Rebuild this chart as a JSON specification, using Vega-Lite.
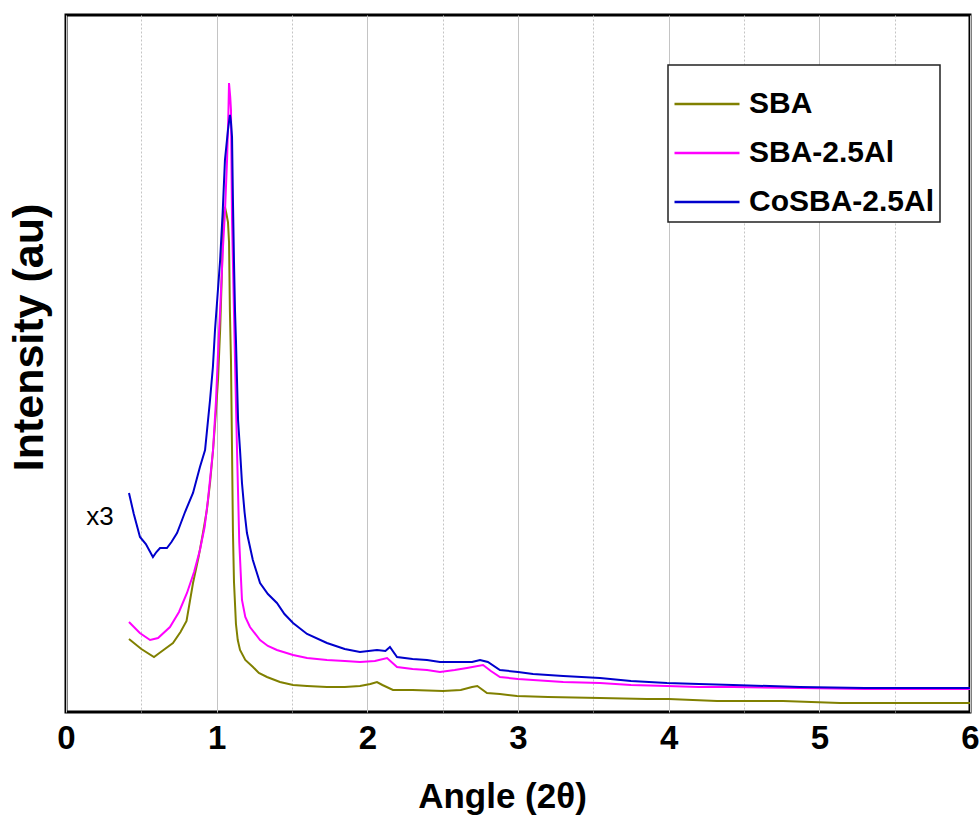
{
  "$schema": "https://vega.github.io/schema/vega-lite/v6.json",
  "width": 904,
  "height": 697,
  "autosize": "none",
  "padding": {"left": 66, "top": 15, "right": 9, "bottom": 103},
  "background": "white",
  "config": {
    "view": {"stroke": "black", "strokeWidth": 3},
    "font": "Liberation Sans"
  },
  "datasets": {
    "curves": [
      {"s":"SBA","x":0.418,"y":73},{"s":"SBA","x":0.5,"y":63},{"s":"SBA","x":0.584,"y":55},{"s":"SBA","x":0.62,"y":59},{"s":"SBA","x":0.71,"y":69},{"s":"SBA","x":0.76,"y":80},{"s":"SBA","x":0.8,"y":91},{"s":"SBA","x":0.843,"y":129},{"s":"SBA","x":0.88,"y":155},{"s":"SBA","x":0.909,"y":179},{"s":"SBA","x":0.935,"y":202},{"s":"SBA","x":0.956,"y":229},{"s":"SBA","x":0.976,"y":262},{"s":"SBA","x":0.995,"y":300},{"s":"SBA","x":1.009,"y":332},{"s":"SBA","x":1.023,"y":382},{"s":"SBA","x":1.035,"y":440},{"s":"SBA","x":1.042,"y":495},{"s":"SBA","x":1.055,"y":505},{"s":"SBA","x":1.065,"y":498},{"s":"SBA","x":1.075,"y":490},{"s":"SBA","x":1.082,"y":470},{"s":"SBA","x":1.088,"y":400},{"s":"SBA","x":1.095,"y":352},{"s":"SBA","x":1.102,"y":262},{"s":"SBA","x":1.108,"y":180},{"s":"SBA","x":1.115,"y":130},{"s":"SBA","x":1.128,"y":88},{"s":"SBA","x":1.14,"y":72},{"s":"SBA","x":1.155,"y":62},{"s":"SBA","x":1.19,"y":52},{"s":"SBA","x":1.241,"y":45},{"s":"SBA","x":1.28,"y":39},{"s":"SBA","x":1.334,"y":35},{"s":"SBA","x":1.42,"y":30},{"s":"SBA","x":1.507,"y":27},{"s":"SBA","x":1.6,"y":26},{"s":"SBA","x":1.732,"y":25},{"s":"SBA","x":1.85,"y":25},{"s":"SBA","x":1.951,"y":26},{"s":"SBA","x":2.02,"y":28},{"s":"SBA","x":2.064,"y":30},{"s":"SBA","x":2.1,"y":27},{"s":"SBA","x":2.17,"y":22},{"s":"SBA","x":2.3,"y":22},{"s":"SBA","x":2.502,"y":21},{"s":"SBA","x":2.62,"y":22},{"s":"SBA","x":2.695,"y":25},{"s":"SBA","x":2.73,"y":26},{"s":"SBA","x":2.794,"y":19},{"s":"SBA","x":2.88,"y":18},{"s":"SBA","x":2.993,"y":16},{"s":"SBA","x":3.2,"y":15},{"s":"SBA","x":3.544,"y":14},{"s":"SBA","x":3.856,"y":13},{"s":"SBA","x":4.0,"y":13},{"s":"SBA","x":4.321,"y":11},{"s":"SBA","x":4.759,"y":11},{"s":"SBA","x":5.137,"y":9},{"s":"SBA","x":5.668,"y":9},{"s":"SBA","x":6.0,"y":9},

      {"s":"SBA-2.5Al","x":0.418,"y":90},{"s":"SBA-2.5Al","x":0.49,"y":79},{"s":"SBA-2.5Al","x":0.558,"y":72},{"s":"SBA-2.5Al","x":0.611,"y":74},{"s":"SBA-2.5Al","x":0.69,"y":85},{"s":"SBA-2.5Al","x":0.75,"y":100},{"s":"SBA-2.5Al","x":0.803,"y":119},{"s":"SBA-2.5Al","x":0.85,"y":140},{"s":"SBA-2.5Al","x":0.889,"y":162},{"s":"SBA-2.5Al","x":0.92,"y":185},{"s":"SBA-2.5Al","x":0.942,"y":212},{"s":"SBA-2.5Al","x":0.976,"y":262},{"s":"SBA-2.5Al","x":0.995,"y":310},{"s":"SBA-2.5Al","x":1.009,"y":359},{"s":"SBA-2.5Al","x":1.023,"y":402},{"s":"SBA-2.5Al","x":1.042,"y":465},{"s":"SBA-2.5Al","x":1.055,"y":500},{"s":"SBA-2.5Al","x":1.069,"y":552},{"s":"SBA-2.5Al","x":1.078,"y":600},{"s":"SBA-2.5Al","x":1.082,"y":629},{"s":"SBA-2.5Al","x":1.09,"y":615},{"s":"SBA-2.5Al","x":1.095,"y":602},{"s":"SBA-2.5Al","x":1.102,"y":492},{"s":"SBA-2.5Al","x":1.112,"y":420},{"s":"SBA-2.5Al","x":1.122,"y":350},{"s":"SBA-2.5Al","x":1.135,"y":262},{"s":"SBA-2.5Al","x":1.15,"y":170},{"s":"SBA-2.5Al","x":1.168,"y":112},{"s":"SBA-2.5Al","x":1.19,"y":95},{"s":"SBA-2.5Al","x":1.221,"y":85},{"s":"SBA-2.5Al","x":1.288,"y":72},{"s":"SBA-2.5Al","x":1.34,"y":66},{"s":"SBA-2.5Al","x":1.4,"y":62},{"s":"SBA-2.5Al","x":1.507,"y":57},{"s":"SBA-2.5Al","x":1.6,"y":54},{"s":"SBA-2.5Al","x":1.732,"y":52},{"s":"SBA-2.5Al","x":1.85,"y":51},{"s":"SBA-2.5Al","x":1.951,"y":50},{"s":"SBA-2.5Al","x":2.05,"y":51},{"s":"SBA-2.5Al","x":2.131,"y":54},{"s":"SBA-2.5Al","x":2.197,"y":45},{"s":"SBA-2.5Al","x":2.3,"y":43},{"s":"SBA-2.5Al","x":2.396,"y":42},{"s":"SBA-2.5Al","x":2.482,"y":40},{"s":"SBA-2.5Al","x":2.58,"y":42},{"s":"SBA-2.5Al","x":2.661,"y":44},{"s":"SBA-2.5Al","x":2.768,"y":47},{"s":"SBA-2.5Al","x":2.82,"y":41},{"s":"SBA-2.5Al","x":2.88,"y":35},{"s":"SBA-2.5Al","x":3.0,"y":33},{"s":"SBA-2.5Al","x":3.1,"y":32},{"s":"SBA-2.5Al","x":3.3,"y":30},{"s":"SBA-2.5Al","x":3.544,"y":29},{"s":"SBA-2.5Al","x":3.75,"y":27},{"s":"SBA-2.5Al","x":3.989,"y":26},{"s":"SBA-2.5Al","x":4.2,"y":25},{"s":"SBA-2.5Al","x":4.427,"y":25},{"s":"SBA-2.5Al","x":4.872,"y":24},{"s":"SBA-2.5Al","x":5.3,"y":23},{"s":"SBA-2.5Al","x":5.668,"y":23},{"s":"SBA-2.5Al","x":6.0,"y":23},

      {"s":"CoSBA-2.5Al","x":0.418,"y":219},{"s":"CoSBA-2.5Al","x":0.45,"y":198},{"s":"CoSBA-2.5Al","x":0.491,"y":175},{"s":"CoSBA-2.5Al","x":0.53,"y":168},{"s":"CoSBA-2.5Al","x":0.577,"y":155},{"s":"CoSBA-2.5Al","x":0.6,"y":160},{"s":"CoSBA-2.5Al","x":0.624,"y":164},{"s":"CoSBA-2.5Al","x":0.67,"y":164},{"s":"CoSBA-2.5Al","x":0.7,"y":170},{"s":"CoSBA-2.5Al","x":0.737,"y":179},{"s":"CoSBA-2.5Al","x":0.76,"y":188},{"s":"CoSBA-2.5Al","x":0.79,"y":200},{"s":"CoSBA-2.5Al","x":0.843,"y":219},{"s":"CoSBA-2.5Al","x":0.889,"y":245},{"s":"CoSBA-2.5Al","x":0.923,"y":262},{"s":"CoSBA-2.5Al","x":0.956,"y":312},{"s":"CoSBA-2.5Al","x":0.975,"y":345},{"s":"CoSBA-2.5Al","x":0.989,"y":382},{"s":"CoSBA-2.5Al","x":1.005,"y":415},{"s":"CoSBA-2.5Al","x":1.023,"y":452},{"s":"CoSBA-2.5Al","x":1.04,"y":500},{"s":"CoSBA-2.5Al","x":1.055,"y":552},{"s":"CoSBA-2.5Al","x":1.075,"y":582},{"s":"CoSBA-2.5Al","x":1.088,"y":597},{"s":"CoSBA-2.5Al","x":1.095,"y":590},{"s":"CoSBA-2.5Al","x":1.102,"y":575},{"s":"CoSBA-2.5Al","x":1.108,"y":512},{"s":"CoSBA-2.5Al","x":1.115,"y":450},{"s":"CoSBA-2.5Al","x":1.122,"y":400},{"s":"CoSBA-2.5Al","x":1.128,"y":372},{"s":"CoSBA-2.5Al","x":1.142,"y":292},{"s":"CoSBA-2.5Al","x":1.155,"y":262},{"s":"CoSBA-2.5Al","x":1.168,"y":229},{"s":"CoSBA-2.5Al","x":1.185,"y":200},{"s":"CoSBA-2.5Al","x":1.201,"y":179},{"s":"CoSBA-2.5Al","x":1.24,"y":152},{"s":"CoSBA-2.5Al","x":1.288,"y":129},{"s":"CoSBA-2.5Al","x":1.34,"y":118},{"s":"CoSBA-2.5Al","x":1.4,"y":109},{"s":"CoSBA-2.5Al","x":1.45,"y":98},{"s":"CoSBA-2.5Al","x":1.507,"y":89},{"s":"CoSBA-2.5Al","x":1.6,"y":78},{"s":"CoSBA-2.5Al","x":1.732,"y":69},{"s":"CoSBA-2.5Al","x":1.85,"y":63},{"s":"CoSBA-2.5Al","x":1.951,"y":60},{"s":"CoSBA-2.5Al","x":2.064,"y":62},{"s":"CoSBA-2.5Al","x":2.12,"y":61},{"s":"CoSBA-2.5Al","x":2.15,"y":65},{"s":"CoSBA-2.5Al","x":2.197,"y":55},{"s":"CoSBA-2.5Al","x":2.3,"y":53},{"s":"CoSBA-2.5Al","x":2.396,"y":52},{"s":"CoSBA-2.5Al","x":2.482,"y":50},{"s":"CoSBA-2.5Al","x":2.6,"y":50},{"s":"CoSBA-2.5Al","x":2.695,"y":50},{"s":"CoSBA-2.5Al","x":2.748,"y":52},{"s":"CoSBA-2.5Al","x":2.8,"y":50},{"s":"CoSBA-2.5Al","x":2.88,"y":42},{"s":"CoSBA-2.5Al","x":3.0,"y":40},{"s":"CoSBA-2.5Al","x":3.1,"y":38},{"s":"CoSBA-2.5Al","x":3.3,"y":36},{"s":"CoSBA-2.5Al","x":3.544,"y":34},{"s":"CoSBA-2.5Al","x":3.75,"y":31},{"s":"CoSBA-2.5Al","x":3.989,"y":29},{"s":"CoSBA-2.5Al","x":4.2,"y":28},{"s":"CoSBA-2.5Al","x":4.427,"y":27},{"s":"CoSBA-2.5Al","x":4.872,"y":25},{"s":"CoSBA-2.5Al","x":5.3,"y":24},{"s":"CoSBA-2.5Al","x":5.668,"y":24},{"s":"CoSBA-2.5Al","x":6.0,"y":24}
    ],
    "notes": [{"x": 0.226, "y": 195, "t": "x3"}]
  },
  "layer": [
    {
      "data": {"name": "curves"},
      "mark": {"type": "line", "strokeWidth": 2, "interpolate": "linear"},
      "encoding": {
        "x": {
          "field": "x", "type": "quantitative",
          "scale": {"domain": [0, 6], "nice": false, "zero": false},
          "axis": {
            "values": [0, 0.5, 1, 1.5, 2, 2.5, 3, 3.5, 4, 4.5, 5, 5.5, 6],
            "labelExpr": "datum.value % 1 === 0 ? format(datum.value, 'd') : ''",
            "grid": true,
            "gridColor": "#c4c4c4",
            "gridWidth": 1,
            "gridDash": {"condition": {"test": "datum.value % 1 !== 0", "value": [2, 2]}, "value": []},
            "ticks": false,
            "domain": false,
            "labelFont": "Liberation Sans",
            "labelFontWeight": "bold",
            "labelFontSize": 33,
            "labelColor": "black",
            "labelBaseline": "top",
            "labelPadding": 10,
            "labelFlush": false,
            "labelOverlap": false,
            "title": "Angle (2θ)",
            "titleFont": "Liberation Sans",
            "titleFontWeight": "bold",
            "titleFontSize": 35,
            "titleColor": "black",
            "titleBaseline": "alphabetic",
            "titleX": 436,
            "titleY": 95
          }
        },
        "y": {
          "field": "y", "type": "quantitative",
          "scale": {"domain": [0, 697], "nice": false},
          "axis": {
            "labels": false, "ticks": false, "grid": false, "domain": false,
            "title": "Intensity (au)",
            "titleFont": "Liberation Sans",
            "titleFontWeight": "bold",
            "titleFontSize": 43,
            "titleColor": "black",
            "titleAngle": 270,
            "titleBaseline": "middle",
            "titleAlign": "center",
            "titleX": -37,
            "titleY": 322
          }
        },
        "color": {
          "field": "s", "type": "nominal",
          "scale": {"domain": ["SBA", "SBA-2.5Al", "CoSBA-2.5Al"], "range": ["#808000", "#ff00ff", "#0000cc"]},
          "legend": {
            "title": null,
            "orient": "none",
            "legendX": 602,
            "legendY": 50,
            "symbolType": "stroke",
            "symbolSize": 4225,
            "symbolStrokeWidth": 2.5,
            "labelFont": "Liberation Sans",
            "labelFontWeight": "bold",
            "labelFontSize": 30,
            "labelColor": "black",
            "labelOffset": 8,
            "labelLimit": 400,
            "rowPadding": -30,
            "padding": 5,
            "fillColor": "white",
            "strokeColor": "#222222",
            "encode": {"legend": {"update": {"strokeWidth": {"value": 1.5}}}}
          }
        },
        "order": {"field": "x", "type": "quantitative"}
      }
    },
    {
      "data": {"name": "notes"},
      "mark": {"type": "text", "fontSize": 26, "font": "Liberation Sans", "align": "center", "baseline": "middle", "color": "black"},
      "encoding": {
        "x": {"field": "x", "type": "quantitative"},
        "y": {"field": "y", "type": "quantitative"},
        "text": {"field": "t"}
      }
    }
  ]
}
